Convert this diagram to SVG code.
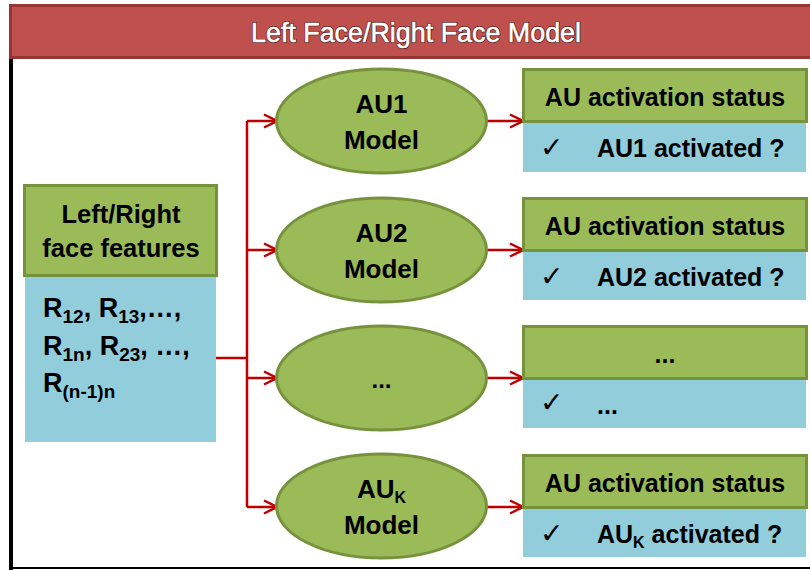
<svg xmlns="http://www.w3.org/2000/svg" width="810" height="570" viewBox="0 0 810 570">
<defs>
<style>
.t{font-family:"Liberation Sans",Arial,sans-serif;font-weight:bold;fill:#000;}
.c{text-anchor:middle;}
.hdr{fill:#9bbb59;stroke:#76923c;stroke-width:3;}
.body{fill:#92cddc;}
.ell{fill:#9bbb59;stroke:#76923c;stroke-width:3;}
.conn{fill:none;stroke:#c00000;stroke-width:2.5;}
.chk{font-family:"DejaVu Sans",sans-serif;font-weight:bold;font-size:28px;fill:#000;}
</style>
<marker id="arr" viewBox="0 0 16 16" refX="15" refY="8" markerWidth="16" markerHeight="16" markerUnits="userSpaceOnUse" orient="auto">
<path d="M2,1.5 L15,8 L2,14.5" fill="none" stroke="#c00000" stroke-width="2.5"/>
</marker>
</defs>
<rect width="810" height="570" fill="#fff"/>
<g id="frame">
<rect x="9" y="57" width="4" height="513" fill="#000"/>
<rect x="9" y="567" width="801" height="2" fill="#000"/>
</g>
<g id="title">
<rect x="10.5" y="5.5" width="802" height="52" fill="#c0504d" stroke="#943634" stroke-width="3"/>
<text x="416" y="42" class="c" font-family="Liberation Sans,Arial,sans-serif" font-size="27" fill="#fff" stroke="#4a1a18" stroke-width="2" stroke-linejoin="round" textLength="330" lengthAdjust="spacingAndGlyphs">Left Face/Right Face Model</text>
<text x="416" y="42" class="c" font-family="Liberation Sans,Arial,sans-serif" font-size="27" fill="#fff" stroke="#fff" stroke-width="0.6" textLength="330" lengthAdjust="spacingAndGlyphs">Left Face/Right Face Model</text>
</g>
<g id="connectors">
<path class="conn" d="M216,358 H247"/>
<path class="conn" d="M247,121 V507"/>
<path class="conn" d="M247,121 H277" marker-end="url(#arr)"/>
<path class="conn" d="M247,250 H277" marker-end="url(#arr)"/>
<path class="conn" d="M247,378 H277" marker-end="url(#arr)"/>
<path class="conn" d="M247,507 H277" marker-end="url(#arr)"/>
<path class="conn" d="M487,121 H523" marker-end="url(#arr)"/>
<path class="conn" d="M487,250 H523" marker-end="url(#arr)"/>
<path class="conn" d="M487,378 H523" marker-end="url(#arr)"/>
<path class="conn" d="M487,507 H523" marker-end="url(#arr)"/>
</g>
<g id="features">
<rect class="body" x="25" y="276" width="191" height="166"/>
<rect class="hdr" x="24.5" y="185.5" width="192" height="90"/>
<text class="t c" x="121" y="223" font-size="25.5">Left/Right</text>
<text class="t c" x="121" y="257" font-size="25.5">face features</text>
<text class="t" x="43" y="317" font-size="27">R<tspan font-size="19" dy="6">12</tspan><tspan dy="-6">, R</tspan><tspan font-size="19" dy="6">13</tspan><tspan dy="-6">,…,</tspan></text>
<text class="t" x="43" y="355" font-size="27">R<tspan font-size="19" dy="6">1n</tspan><tspan dy="-6">, R</tspan><tspan font-size="19" dy="6">23</tspan><tspan dy="-6">, …,</tspan></text>
<text class="t" x="43" y="392" font-size="27">R<tspan font-size="19" dy="6">(n-1)n</tspan></text>
</g>
<g id="au1-model">
<ellipse class="ell" cx="381.5" cy="121" rx="105" ry="52"/>
<text class="t c" x="381.5" y="113" font-size="26">AU1</text>
<text class="t c" x="381.5" y="149" font-size="26">Model</text>
</g>
<g id="au2-model">
<ellipse class="ell" cx="381.5" cy="250" rx="105" ry="52"/>
<text class="t c" x="381.5" y="242" font-size="26">AU2</text>
<text class="t c" x="381.5" y="278" font-size="26">Model</text>
</g>
<g id="dots-model">
<ellipse class="ell" cx="381.5" cy="378" rx="105" ry="52"/>
<text class="t c" x="381.5" y="388" font-size="24">...</text>
</g>
<g id="auk-model">
<ellipse class="ell" cx="381.5" cy="506" rx="105" ry="52"/>
<text class="t c" x="381.5" y="498" font-size="26">AU<tspan font-size="16" dy="5">K</tspan></text>
<text class="t c" x="381.5" y="534" font-size="26">Model</text>
</g>
<g id="au1-status">
<rect class="body" x="523" y="121" width="283" height="51"/>
<rect class="hdr" x="523.5" y="69.5" width="283" height="52"/>
<text class="t c" x="665" y="106" font-size="25">AU activation status</text>
<text class="chk" x="540" y="157">✓</text>
<text class="t" x="597" y="157" font-size="25">AU1 activated ?</text>
</g>
<g id="au2-status">
<rect class="body" x="523" y="250" width="283" height="50"/>
<rect class="hdr" x="523.5" y="198.5" width="283" height="52"/>
<text class="t c" x="665" y="235" font-size="25">AU activation status</text>
<text class="chk" x="540" y="286">✓</text>
<text class="t" x="597" y="286" font-size="25">AU2 activated ?</text>
</g>
<g id="dots-status">
<rect class="body" x="523" y="378" width="283" height="50"/>
<rect class="hdr" x="523.5" y="326.5" width="283" height="52"/>
<text class="t c" x="665" y="363" font-size="25">...</text>
<text class="chk" x="540" y="412" font-size="30">✓</text>
<text class="t" x="597" y="414" font-size="25">...</text>
</g>
<g id="auk-status">
<rect class="body" x="523" y="507" width="283" height="50"/>
<rect class="hdr" x="523.5" y="455.5" width="283" height="52"/>
<text class="t c" x="665" y="492" font-size="25">AU activation status</text>
<text class="chk" x="540" y="543">✓</text>
<text class="t" x="597" y="543" font-size="25">AU<tspan font-size="16" dy="5">K</tspan><tspan dy="-5"> activated ?</tspan></text>
</g>
</svg>
